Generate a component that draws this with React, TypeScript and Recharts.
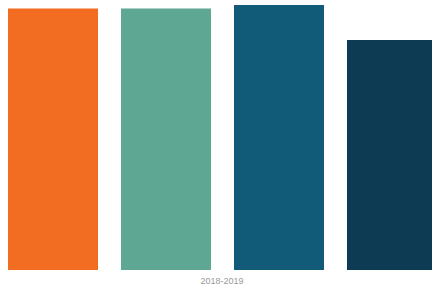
import { Bar, BarChart, XAxis, YAxis } from "recharts";

// One season, four groups
const seasons = ["2018-2019"];
const groupA = [98.7];
const groupB = [98.7];
const groupC = [100];
const groupD = [86.8];

const colors = ["#F26D21", "#5EA893", "#115A78", "#0E3B54"];

const data = seasons.map((season, i) => ({
  season,
  a: groupA[i],
  b: groupB[i],
  c: groupC[i],
  d: groupD[i],
}));

export default function App() {
  return (
    <div
      style={{
        position: "fixed",
        left: 8,
        top: 0,
        width: 424,
        height: 289,
        overflow: "hidden",
        background: "#fff",
      }}
    >
      <BarChart
        width={428}
        height={289}
        data={data}
        margin={{ top: 5, right: 0, bottom: 0, left: 0 }}
        barCategoryGap={0}
        barGap={23}
      >
        <XAxis
          dataKey="season"
          axisLine={false}
          tickLine={false}
          height={19}
          tick={{ fill: "#999", fontSize: 9, fontFamily: "Helvetica, Arial, sans-serif" }}
        />
        <YAxis hide domain={[0, 100]} />
        <Bar dataKey="a" fill={colors[0]} isAnimationActive={false} />
        <Bar dataKey="b" fill={colors[1]} isAnimationActive={false} />
        <Bar dataKey="c" fill={colors[2]} isAnimationActive={false} />
        <Bar dataKey="d" fill={colors[3]} isAnimationActive={false} />
      </BarChart>
    </div>
  );
}
